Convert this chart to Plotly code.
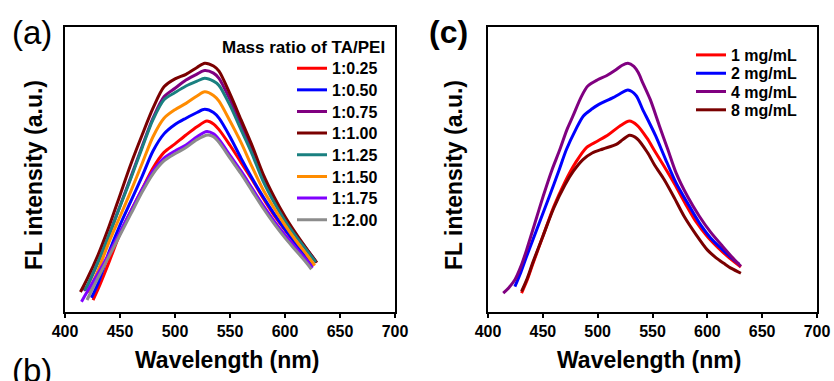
import plotly.graph_objects as go

W, H = 834, 381
FONT = "Liberation Sans, Arial, sans-serif"

# ---------------- Panel (a): mass ratio of TA/PEI ----------------
ratio_names = ["1:0.25", "1:0.50", "1:0.75", "1:1.00", "1:1.25", "1:1.50", "1:1.75", "1:2.00"]
ratio_colors = ["#ff0000", "#0000ff", "#800080", "#7a0000", "#1a8080", "#ff8c00", "#8000ff", "#8c8c8c"]

wl_r025 = [425.5, 430, 440, 450, 460, 470, 480, 490, 500, 510, 520, 529, 535, 540, 550, 560, 570, 580, 590, 600, 610, 620, 626]
fl_r025 = [4.2, 8, 17.5, 27.5, 35.5, 43, 50.5, 56, 59, 62.1, 65, 67, 66, 64, 58.5, 52.5, 46.5, 40, 34, 28.8, 23.8, 19.3, 16.5]

wl_r050 = [424, 430, 440, 450, 460, 470, 480, 490, 500, 510, 520, 527, 535, 540, 550, 560, 570, 580, 590, 600, 610, 620, 625]
fl_r050 = [5, 10, 21, 30.5, 39, 47.5, 56.5, 62.5, 65.8, 68, 70, 71.1, 70, 68, 61.5, 54, 47, 40.5, 34.5, 29, 24, 19, 16.5]

wl_r075 = [417, 420, 430, 440, 450, 460, 470, 480, 490, 500, 510, 520, 527, 535, 540, 550, 560, 570, 580, 590, 600, 610, 620, 628]
fl_r075 = [7.5, 9, 17.5, 27, 37.2, 47.5, 58, 68, 75.5, 78.5, 81.4, 83.5, 84.7, 83.8, 82, 74.5, 66, 57, 47.5, 39.5, 33, 27, 22, 17.8]

wl_r100 = [414, 420, 430, 440, 450, 460, 470, 480, 490, 500, 510, 520, 527, 535, 540, 550, 560, 570, 580, 590, 600, 610, 620, 629]
fl_r100 = [7, 11.5, 20, 30, 41, 52, 62, 71.5, 79, 81.8, 83.4, 85.8, 87.3, 86.3, 84.5, 76.5, 67.5, 58.5, 48.5, 40.5, 33.5, 27.5, 22, 17.3]

wl_r125 = [418, 420, 430, 440, 450, 460, 470, 480, 490, 500, 510, 520, 527, 535, 540, 550, 560, 570, 580, 590, 600, 610, 620, 628]
fl_r125 = [7.5, 9, 17.5, 27, 37, 47, 57.5, 67.5, 74.5, 77, 79.3, 81, 82, 81, 79.5, 72.5, 64, 55.5, 46, 38.5, 32, 26.5, 21.5, 17.5]

wl_r150 = [421, 430, 440, 450, 460, 470, 480, 490, 500, 510, 520, 527, 535, 540, 550, 560, 570, 580, 590, 600, 610, 620, 627]
fl_r150 = [6.7, 14.5, 24.5, 33.5, 42.5, 52, 61.5, 68, 71, 73.2, 75.8, 77.3, 76, 74, 67, 59.5, 51, 43, 36.5, 30.5, 25, 20, 16.3]

wl_r175 = [415, 420, 430, 440, 450, 460, 470, 480, 490, 500, 510, 520, 529, 535, 540, 550, 560, 570, 580, 590, 600, 610, 620, 625]
fl_r175 = [3.6, 7, 13.5, 20.5, 28, 35.5, 43, 49.5, 54, 56.5, 58.6, 61.5, 63.3, 62.5, 60.5, 55, 49.5, 43.5, 37.5, 32, 27, 22.5, 18, 15.5]

wl_r200 = [420, 430, 440, 450, 460, 470, 480, 490, 500, 510, 520, 530, 535, 540, 550, 560, 570, 580, 590, 600, 610, 620, 624]
fl_r200 = [4.2, 12, 19.5, 27, 34.5, 42, 48.5, 53, 55.5, 57.7, 60.5, 62.1, 61.5, 59.5, 54, 48.5, 42.5, 36.5, 31, 26, 21.5, 17, 15]

ratio_wl = [wl_r025, wl_r050, wl_r075, wl_r100, wl_r125, wl_r150, wl_r175, wl_r200]
ratio_fl = [fl_r025, fl_r050, fl_r075, fl_r100, fl_r125, fl_r150, fl_r175, fl_r200]

# ---------------- Panel (c): concentration ----------------
conc_names = ["1 mg/mL", "2 mg/mL", "4 mg/mL", "8 mg/mL"]
conc_colors = ["#ff0000", "#0000ff", "#800080", "#7a0000"]

wl_c1 = [430.6, 436, 441, 450, 460, 470, 480, 490, 500, 510, 520, 529, 536, 545, 552, 560, 570, 580, 590, 600, 610, 620, 630.6]
fl_c1 = [6.6, 11.5, 17, 26.5, 37, 45.5, 52.5, 57.8, 60, 62.3, 65.2, 67, 65.5, 61, 56.5, 51.5, 45, 38, 31.5, 26.5, 22.5, 19, 15.8]

wl_c2 = [424.5, 430, 435, 445, 456, 465, 471.5, 480, 487, 495, 500, 514, 520, 527.6, 535, 541, 547, 553, 562, 571.5, 580, 592.7, 603, 614, 622, 629]
fl_c2 = [8.9, 14, 19.3, 29.5, 40.6, 50, 57, 64, 68.8, 71.3, 72.6, 75.2, 76.5, 77.9, 76, 71.1, 66.5, 61.7, 53.5, 45.3, 39.5, 31.3, 26, 21.8, 19, 16.8]

wl_c4 = [413.9, 419, 424.5, 430, 435.2, 443, 450.3, 458, 465.5, 472, 477.5, 485, 491, 500, 508, 516, 522, 527.6, 533, 537, 541, 548, 556.4, 564, 571.5, 582, 592.7, 603, 614, 622, 630.6]
fl_c4 = [6.6, 8.5, 11.3, 16, 21.8, 31.5, 40.6, 49.5, 57, 64, 68.8, 75.5, 79.3, 81.5, 82.9, 84.8, 86.5, 87.3, 86.2, 84, 80.5, 74.5, 65.2, 57, 48.8, 40.5, 33.6, 28, 23, 19.5, 16]

wl_c8 = [430.6, 436, 441, 450, 460, 470, 478, 486.6, 495, 504.8, 517, 523, 529, 536, 545.5, 552, 560.6, 570, 578.8, 590, 600, 608, 615, 622, 630.6]
fl_c8 = [7.2, 12, 17.5, 26.5, 36.5, 44.5, 49.5, 53.5, 55.8, 57.2, 58.8, 60.5, 62, 60.8, 55.9, 51.5, 46.5, 40, 33.6, 27, 21.8, 19, 17.1, 15.3, 13.6]

conc_wl = [wl_c1, wl_c2, wl_c4, wl_c8]
conc_fl = [fl_c1, fl_c2, fl_c4, fl_c8]

x_ticks = [400, 450, 500, 550, 600, 650, 700]


def px(x):
    return x / W


def py(y):
    return (H - y) / H


fig = go.Figure()
legends = {}
idx = 1
for i, (name, col, xs, ys) in enumerate(zip(ratio_names, ratio_colors, ratio_wl, ratio_fl)):
    key = "legend" if idx == 1 else f"legend{idx}"
    fig.add_trace(go.Scatter(x=xs, y=ys, name=name, mode="lines",
                             line=dict(color=col, width=3, shape="spline", smoothing=0.8),
                             xaxis="x", yaxis="y", legend=key))
    legends[key] = dict(x=px(292), y=py(68.3 + 21.64 * i), xanchor="left", yanchor="middle",
                        bgcolor="rgba(0,0,0,0)", itemwidth=30,
                        font=dict(family=FONT, size=16, color="black", weight="bold"))
    idx += 1
for i, (name, col, xs, ys) in enumerate(zip(conc_names, conc_colors, conc_wl, conc_fl)):
    key = f"legend{idx}"
    fig.add_trace(go.Scatter(x=xs, y=ys, name=name, mode="lines",
                             line=dict(color=col, width=3, shape="spline", smoothing=0.8),
                             xaxis="x2", yaxis="y2", legend=key))
    legends[key] = dict(x=px(691), y=py(55 + 18.3 * i), xanchor="left", yanchor="middle",
                        bgcolor="rgba(0,0,0,0)", itemwidth=30,
                        font=dict(family=FONT, size=16, color="black", weight="bold"))
    idx += 1

y_dom = [py(312), py(27)]
xa = dict(range=[400, 700], tickvals=x_ticks, ticks="outside", ticklen=4, tickwidth=2,
          tickcolor="black", showline=True, linewidth=2, linecolor="black", mirror=True,
          showgrid=False, zeroline=False, automargin=False,
          tickfont=dict(family=FONT, size=16, color="black", weight="bold"))
ya = dict(range=[0, 100], showticklabels=False, ticks="", showline=True, linewidth=2,
          linecolor="black", mirror=True, showgrid=False, zeroline=False, automargin=False)

fig.update_layout(
    width=W, height=H,
    margin=dict(l=0, r=0, t=0, b=0, autoexpand=False),
    paper_bgcolor="white", plot_bgcolor="white",
    xaxis=dict(domain=[px(65), px(395)], anchor="y", **xa),
    yaxis=dict(domain=y_dom, anchor="x", **ya),
    xaxis2=dict(domain=[px(488), px(817)], anchor="y2", **xa),
    yaxis2=dict(domain=y_dom, anchor="x2", **ya),
    showlegend=True,
    **legends,
)

ann = []
ann.append(dict(text="Mass ratio of TA/PEI", x=px(387), y=py(47), xref="paper", yref="paper",
                xanchor="right", yanchor="middle", showarrow=False,
                font=dict(family=FONT, size=17, color="black", weight="bold")))
for cx in (227, 649):
    ann.append(dict(text="Wavelength (nm)", x=px(cx), y=py(360), xref="paper", yref="paper",
                    xanchor="center", yanchor="middle", showarrow=False,
                    font=dict(family=FONT, size=23, color="black", weight="bold")))
for cx in (34, 454):
    ann.append(dict(text="FL intensity (a.u.)", x=px(cx), y=py(175), xref="paper", yref="paper",
                    xanchor="center", yanchor="middle", showarrow=False, textangle=-90,
                    font=dict(family=FONT, size=23, color="black", weight="bold")))
ann.append(dict(text="(a)", x=px(32), y=py(33), xref="paper", yref="paper",
                xanchor="center", yanchor="middle", showarrow=False,
                font=dict(family=FONT, size=33, color="black")))
ann.append(dict(text="(b)", x=px(32), y=py(370), xref="paper", yref="paper",
                xanchor="center", yanchor="middle", showarrow=False,
                font=dict(family=FONT, size=33, color="black")))
ann.append(dict(text="(c)", x=px(448), y=py(32), xref="paper", yref="paper",
                xanchor="center", yanchor="middle", showarrow=False,
                font=dict(family=FONT, size=32, color="black", weight="bold")))
fig.update_layout(annotations=ann)

fig.write_html("out.html")
